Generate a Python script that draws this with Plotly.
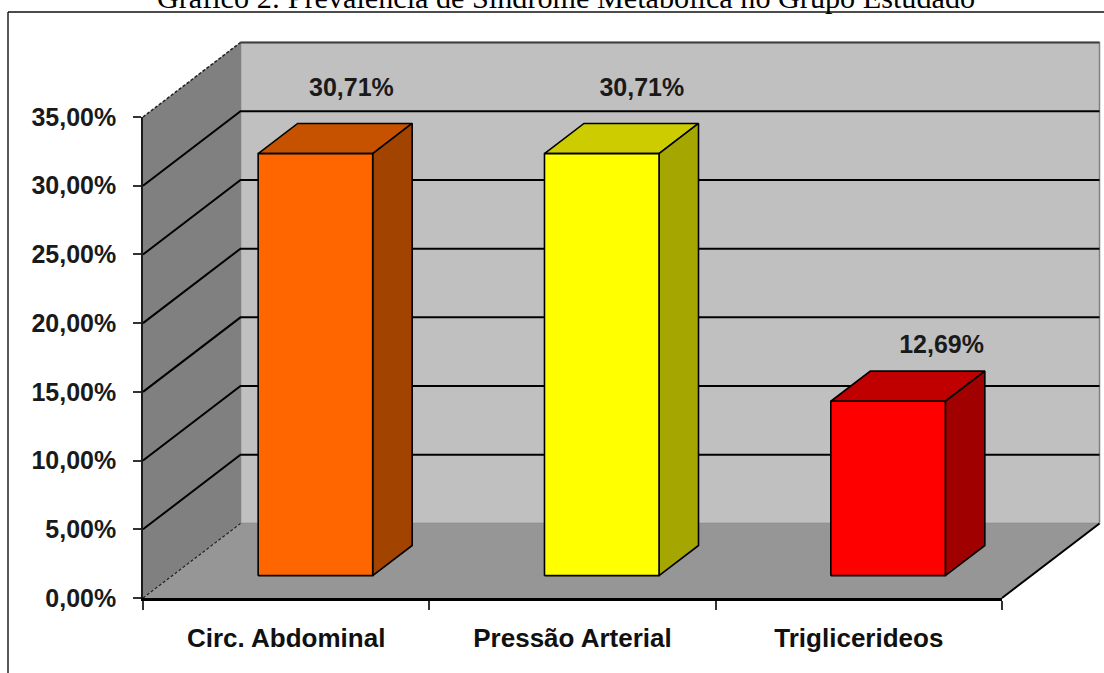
import plotly.graph_objects as go

categories = ["Circ. Abdominal", "Pressão Arterial", "Triglicerideos"]
values = [30.71, 30.71, 12.69]
value_labels = ["30,71%", "30,71%", "12,69%"]
y_ticks = [0, 5, 10, 15, 20, 25, 30, 35]
y_tick_labels = ["0,00%", "5,00%", "10,00%", "15,00%", "20,00%", "25,00%", "30,00%", "35,00%"]
title_text = "Gráfico 2: Prevalência de Síndrome Metabólica no Grupo Estudado"

front_colors = ["#FF6600", "#FFFF00", "#FF0000"]
top_colors = ["#C65200", "#CCCC00", "#C00000"]
side_colors = ["#A34300", "#A6A600", "#A00000"]

W, H = 1104, 673
# plot frame, in page pixels
L, R, B, T = 143, 1002, 598, 117
Y_MAX = 35
UX = (R - L) / 3          # pixels per category
UY = (B - T) / Y_MAX      # pixels per percent
# oblique projection: full depth in data units
DX = 97.5 / UX
DY = 74.5 / UY
BAR_HALF = 0.2
BAR_Z0, BAR_Z1 = 0.3, 0.705
# hand placed label offsets (x in category units, y in value units)
label_dx = [-0.012, 0.002, 0.049]
label_dy = [1.56, 1.56, 0.89]


def pr(x, y, z):
    return x + z * DX, y + z * DY


def face(points, fill, line="#000000", width=1.6):
    xy = [pr(*p) for p in points]
    return go.Scatter(x=[a for a, _ in xy], y=[b for _, b in xy], mode="lines",
                      fill="toself", fillcolor=fill, line=dict(color=line, width=width),
                      hoverinfo="skip", showlegend=False)


def seg(points, color="#000000", width=2, dash="solid"):
    xy = [pr(*p) for p in points]
    return go.Scatter(x=[a for a, _ in xy], y=[b for _, b in xy], mode="lines",
                      line=dict(color=color, width=width, dash=dash),
                      hoverinfo="skip", showlegend=False)


traces = []
# walls and floor
traces.append(face([(0, 0, 1), (3, 0, 1), (3, Y_MAX, 1), (0, Y_MAX, 1), (0, 0, 1)], "#C0C0C0", line="#808080", width=1.5))
traces.append(face([(0, 0, 0), (0, 0, 1), (0, Y_MAX, 1), (0, Y_MAX, 0), (0, 0, 0)], "#808080", line="#808080", width=0.5))
traces.append(face([(0, 0, 0), (3, 0, 0), (3, 0, 1), (0, 0, 1), (0, 0, 0)], "#969696", line="#969696", width=0.5))
# grid lines on the walls
for t in y_ticks[1:-1]:
    traces.append(seg([(0, t, 0), (0, t, 1), (3, t, 1)], width=2))
traces.append(seg([(0, Y_MAX, 1), (3, Y_MAX, 1)], color="#404040", width=2))
traces.append(seg([(0, Y_MAX, 0), (0, Y_MAX, 1)], color="#202020", width=1.5, dash="3px,2px"))
traces.append(seg([(0, 0, 0), (0, 0, 1)], color="#202020", width=1.2, dash="3px,2px"))
traces.append(seg([(3, 0, 0), (3, 0, 1)], color="#000000", width=2))

# bars
for i, v in enumerate(values):
    x0, x1 = i + 0.5 - BAR_HALF, i + 0.5 + BAR_HALF
    z0, z1 = BAR_Z0, BAR_Z1
    traces.append(face([(x0, v, z0), (x1, v, z0), (x1, v, z1), (x0, v, z1), (x0, v, z0)], top_colors[i]))
    traces.append(face([(x1, 0, z0), (x1, 0, z1), (x1, v, z1), (x1, v, z0), (x1, 0, z0)], side_colors[i]))
    traces.append(face([(x0, 0, z0), (x1, 0, z0), (x1, v, z0), (x0, v, z0), (x0, 0, z0)], front_colors[i]))

# value labels
traces.append(go.Scatter(
    x=[i + 0.5 + label_dx[i] + BAR_Z1 * DX for i in range(3)],
    y=[v + BAR_Z1 * DY + label_dy[i] for i, v in enumerate(values)],
    text=value_labels, mode="text", hoverinfo="skip", showlegend=False,
    textfont=dict(family="Liberation Sans", size=25, color="#1a1a1a", weight="bold"),
    textposition="top center"))

# the visible axes live on a second subplot laid over the 3D scene
traces.append(go.Scatter(x=[i + 0.5 for i in range(3)], y=values, xaxis="x2", yaxis="y2",
                         mode="markers", marker=dict(opacity=0), hoverinfo="skip", showlegend=False))

fig = go.Figure(traces)
fig.update_layout(
    width=W, height=H, margin=dict(l=0, r=0, t=0, b=0, pad=0, autoexpand=False),
    paper_bgcolor="#FFFFFF", plot_bgcolor="rgba(0,0,0,0)", showlegend=False,
    # scene axes span the whole page at the same scale as the visible axes
    xaxis=dict(domain=[0, 1], range=[-L / UX, (W - L) / UX], visible=False, fixedrange=True, automargin=False),
    yaxis=dict(domain=[0, 1], range=[-(H - B) / UY, B / UY], visible=False, fixedrange=True, automargin=False),
    xaxis2=dict(domain=[L / W, R / W], range=[0, 3], anchor="y2", tickmode="array", automargin=False,
                tickvals=[0.5, 1.5, 2.5], ticktext=categories, ticks="", ticklen=0,
                ticklabelstandoff=15,
                tickfont=dict(family="Liberation Sans", size=26, color="#111111", weight="bold"),
                showgrid=False, zeroline=False, showline=True, linecolor="#000000", linewidth=2.5,
                minor=dict(tickmode="array", tickvals=[0, 1, 2, 3], ticks="outside",
                           ticklen=9, tickwidth=1.5, tickcolor="#333333", showgrid=False)),
    yaxis2=dict(domain=[(H - B) / H, (H - T) / H], range=[0, Y_MAX], anchor="x2", tickmode="array", automargin=False,
                tickvals=y_ticks, ticktext=y_tick_labels, ticks="outside", ticklen=8,
                tickwidth=1.5, tickcolor="#333333", ticklabelstandoff=12,
                tickfont=dict(family="Liberation Sans", size=25, color="#1a1a1a", weight="bold"),
                showgrid=False, zeroline=False, showline=True, linecolor="#1a1a1a", linewidth=1.5),
    shapes=[
        dict(type="line", xref="paper", yref="paper", x0=8 / W, x1=8 / W, y0=0, y1=(H - 12) / H,
             line=dict(color="#222222", width=1.5)),
        dict(type="line", xref="paper", yref="paper", x0=8 / W, x1=1, y0=(H - 12) / H, y1=(H - 12) / H,
             line=dict(color="#111111", width=1.5)),
    ],
    title=dict(text=title_text, x=566 / W, xanchor="center", xref="paper",
               y=(H - 8) / H, yref="paper", yanchor="bottom", pad=dict(t=0, b=0),
               automargin=False,
               font=dict(family="Liberation Serif", size=30.2, color="#000000")),
)
fig.write_html("out.html", post_script="document.body.style.margin='0';",
               config={"displayModeBar": False})
